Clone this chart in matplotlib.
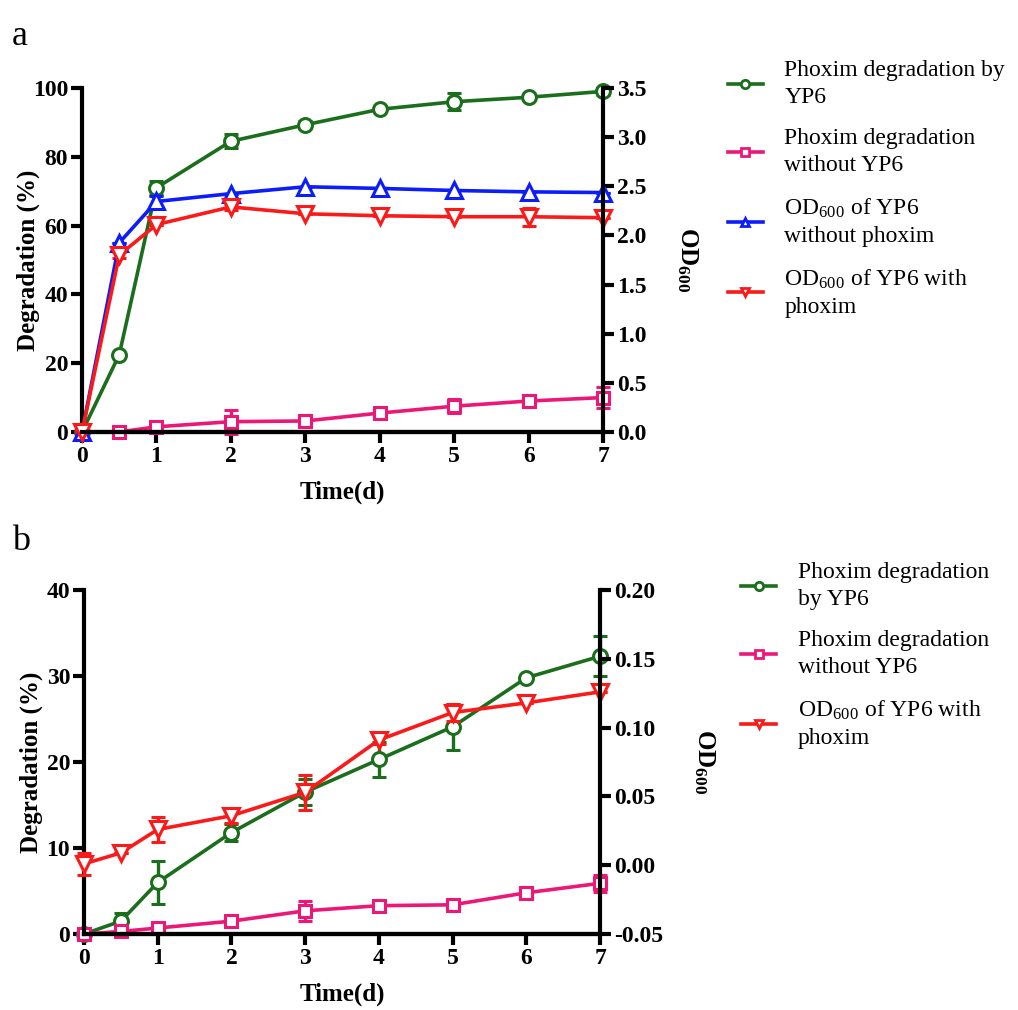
import numpy as np
import matplotlib.pyplot as plt
from matplotlib.lines import Line2D

plt.rcParams['font.family'] = ['Liberation Serif', 'DejaVu Serif']
plt.rcParams['mathtext.fontset'] = 'stix'

# Datos panel a
dias = [0, 0.5, 1, 2, 3, 4, 5, 6, 7]
a_deg_yp6 = [0, 22.5, 71, 84.5, 89.3, 93.8, 96, 97.3, 99]
a_deg_yp6_err = [0, 0, 2, 2, 1, 0.5, 2.5, 0.5, 1]
a_deg_sin = [0, 0, 1.5, 3, 3.2, 5.5, 7.5, 9, 10]
a_deg_sin_err = [0, 0, 0.5, 3.5, 0.5, 0.5, 2, 1, 3]
a_od_sin_fox = [0, 1.925, 2.345, 2.425, 2.495, 2.478, 2.457, 2.443, 2.436]
a_od_sin_fox_err = [0, 0, 0.06, 0, 0, 0, 0, 0, 0]
a_od_con_fox = [0, 1.80, 2.11, 2.29, 2.22, 2.20, 2.19, 2.19, 2.18]
a_od_con_fox_err = [0, 0.03, 0, 0.03, 0, 0, 0, 0.09, 0]

# Datos panel b
b_deg_yp6 = [0, 1.5, 6, 11.8, 16.5, 20.3, 24.1, 29.8, 32.3]
b_deg_yp6_err = [0, 1, 2.5, 1, 1.5, 2, 2.7, 0, 2.3]
b_deg_sin = [0, 0.3, 0.7, 1.5, 2.7, 3.3, 3.4, 4.8, 5.9]
b_deg_sin_err = [0, 0, 0, 0.5, 1.2, 0, 0, 0, 1]
b_od_con_fox = [0.001, 0.009, 0.026, 0.036, 0.053, 0.091, 0.111, 0.118, 0.126]
b_od_con_fox_err = [0.008, 0, 0.009, 0.005, 0.0125, 0.003, 0.006, 0, 0]

VERDE = '#1b6e1b'
ROSA = '#ec1878'
AZUL = '#0d1dfa'
ROJO = '#fb1a1a'

LW = 2.6
FS = 17
FS_LEY = 17


def serie(ax, y, err, color, marker, ms=10):
    ax.errorbar(dias, y, yerr=err, color=color, marker=marker, ms=ms,
                 mfc='white', mec=color, mew=2.2, lw=LW, capsize=5,
                 capthick=2.4, elinewidth=2.4, clip_on=False)


def estilo(ax, ax2):
    for a in (ax, ax2):
        a.spines['top'].set_visible(False)
        for s in ('left', 'right', 'bottom'):
            a.spines[s].set_linewidth(3)
        a.tick_params(width=3, length=8, labelsize=FS, pad=2)
        for t in a.get_xticklabels() + a.get_yticklabels():
            t.set_fontweight('bold')
    ax2.spines['left'].set_visible(False)
    ax.spines['right'].set_visible(False)
    ax.set_xlim(0, 7)
    ax.set_xticks(range(8))
    for t in ax.get_xticklabels():
        t.set_fontweight('bold')
    ax.set_xlabel('Time(d)', fontsize=18, fontweight='bold', labelpad=10)
    ax.set_ylabel('Degradation (%)', fontsize=18, fontweight='bold')
    ax.yaxis.set_label_coords(-0.08, 0.5)
    ax2.set_ylabel(r'OD$_{\mathregular{600}}$', fontsize=18, fontweight='bold',
                   rotation=270, labelpad=38)


def manija(color, marker):
    return Line2D([0], [0], color=color, lw=LW, marker=marker, ms=6,
                  mfc='white', mec=color, mew=2)


def leyenda(ax, h, l, x, y):
    ley = ax.legend(h, l, loc='upper left', bbox_to_anchor=(x, y),
                    bbox_transform=fig.transFigure, frameon=False,
                    fontsize=FS_LEY, handlelength=1.5, handletextpad=0.9,
                    labelspacing=0.85)
    for t in ley.get_texts():
        t.set_linespacing(1.4)
    return ley


fig = plt.figure(figsize=(10.18, 10.10), dpi=100)

# ---- panel a
ax = fig.add_axes([0.0806, 0.5723, 0.5118, 0.3406])
ax2 = ax.twinx()
serie(ax, a_deg_yp6, a_deg_yp6_err, VERDE, 'o')
serie(ax, a_deg_sin, a_deg_sin_err, ROSA, 's', ms=9)
serie(ax2, a_od_sin_fox, a_od_sin_fox_err, AZUL, '^', ms=11)
serie(ax2, a_od_con_fox, a_od_con_fox_err, ROJO, 'v', ms=11)
ax.set_ylim(0, 100)
ax.set_yticks(range(0, 101, 20))
ax2.set_ylim(0, 3.5)
ax2.set_yticks(np.arange(0, 3.51, 0.5))
ax2.set_yticklabels([f'{v:.1f}' for v in np.arange(0, 3.51, 0.5)])
estilo(ax, ax2)

h_a = [manija(VERDE, 'o'), manija(ROSA, 's'), manija(AZUL, '^'), manija(ROJO, 'v')]
l_a = ['Phoxim degradation by\nYP6', 'Phoxim degradation\nwithout YP6',
       'OD$_{\\mathregular{600}}$ of YP6\nwithout phoxim',
       'OD$_{\\mathregular{600}}$ of YP6 with\nphoxim']
leyenda(ax2, h_a, l_a, 0.694, 0.962)

# ---- panel b
bx = fig.add_axes([0.0825, 0.0752, 0.507, 0.3406])
bx2 = bx.twinx()
serie(bx, b_deg_yp6, b_deg_yp6_err, VERDE, 'o')
serie(bx, b_deg_sin, b_deg_sin_err, ROSA, 's', ms=9)
serie(bx2, b_od_con_fox, b_od_con_fox_err, ROJO, 'v', ms=11)
bx.set_ylim(0, 40)
bx.set_yticks(range(0, 41, 10))
bx2.set_ylim(-0.05, 0.20)
bx2.set_yticks(np.arange(-0.05, 0.201, 0.05))
bx2.set_yticklabels([f'{v:.2f}' for v in np.arange(-0.05, 0.201, 0.05)])
estilo(bx, bx2)

h_b = [manija(VERDE, 'o'), manija(ROSA, 's'), manija(ROJO, 'v')]
l_b = ['Phoxim degradation\nby YP6', 'Phoxim degradation\nwithout YP6',
       'OD$_{\\mathregular{600}}$ of YP6 with\nphoxim']
leyenda(bx2, h_b, l_b, 0.707, 0.465)

fig.text(0.012, 0.955, 'a', fontsize=26)
fig.text(0.012, 0.455, 'b', fontsize=26)

fig.savefig('out.png', dpi=100)
